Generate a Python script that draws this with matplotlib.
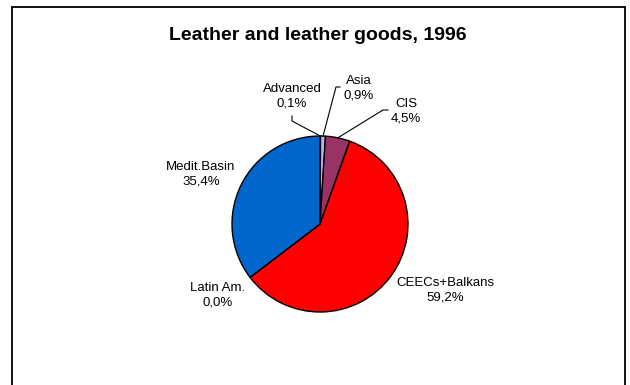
import numpy as np
import matplotlib
matplotlib.use('Agg')
import matplotlib.pyplot as plt
from matplotlib.patches import Rectangle

plt.rcParams['font.family'] = ['Liberation Sans', 'DejaVu Sans']

# share of leather and leather goods, 1996 (%)
regions = ["Advanced", "Asia", "CIS", "CEECs+Balkans", "Latin Am.", "Medit.Basin"]
shares = [0.1, 0.9, 4.5, 59.2, 0.0, 35.4]
colors = ["#FFFFFF", "#B4B4F0", "#993366", "#FF0000", "#FFFFCC", "#0066CC"]

W, H = 630, 385
fig = plt.figure(figsize=(W / 100, H / 100), dpi=100)
ax = fig.add_axes([0, 0, 1, 1])

# outer chart frame (bottom runs off the page)
ax.add_patch(Rectangle((12, -10), 612.5, H - 7 + 10, fill=False,
                       edgecolor='black', linewidth=1.3))

ax.text(318, H - 35, "Leather and leather goods, 1996", ha='center', va='center',
        fontsize=14, fontweight='bold')

cx, cy, r = 320, H - 224, 88
wedges, _ = ax.pie(shares, colors=colors, startangle=90, counterclock=False,
                   center=(cx, cy), radius=r,
                   wedgeprops=dict(edgecolor='black', linewidth=1.0))
ax.set_xlim(0, W)
ax.set_ylim(0, H)
ax.set_aspect('equal')
ax.axis('off')

# label centres (x, y of the two-line block), in pixels from top-left
label_pos = [(292, 96), (359, 88.5), (406, 111.5), (445.5, 290), (218, 295), (201, 174.5)]
# leader lines: start point and elbow point, None for labels next to the pie
leaders = [((292, 116), (292, 121)),
           ((340, 87), (336, 87)),
           ((388, 110), (383, 110)),
           None, None, None]

for w, name, val, (lx, ly), ld in zip(wedges, regions, shares, label_pos, leaders):
    pct = f"{val:.1f}%".replace('.', ',')
    ax.text(lx, H - ly, f"{name}\n{pct}", ha='center', va='center', fontsize=9.5,
            linespacing=1.25)
    if ld is not None:
        mid = np.deg2rad((w.theta1 + w.theta2) / 2)
        px = cx + r * np.cos(mid)
        py = cy + r * np.sin(mid)
        (x0, y0), (x1, y1) = ld
        ax.plot([x0, x1, px], [H - y0, H - y1, py], color='black', linewidth=0.8)

fig.savefig("out.png", dpi=100)
